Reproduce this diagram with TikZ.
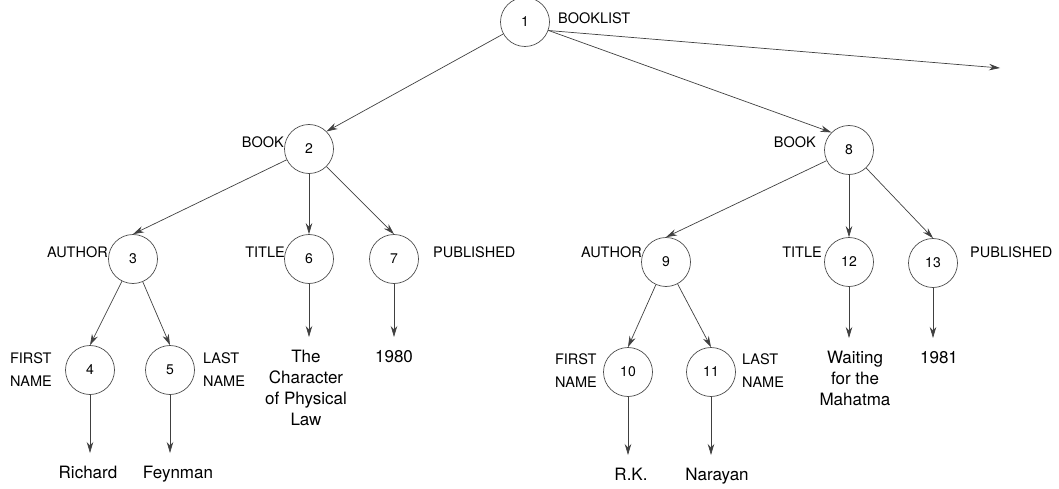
\documentclass[tikz,border=0pt]{standalone}
\usepackage{fontspec}
\setmainfont{TeX Gyre Heros}
\usetikzlibrary{arrows.meta}
\begin{document}
\begin{tikzpicture}[x=1pt,y=-1pt,
  every node/.style={inner sep=0pt},
  circ/.style={circle,draw=black!70,line width=0.7pt,minimum size=49pt,font=\fontsize{14}{16}\selectfont},
  lab/.style={font=\fontsize{14.5}{23}\selectfont,align=left},
  leaf/.style={font=\fontsize{17}{21}\selectfont,align=center,anchor=north},
  arr/.style={draw=black!75,line width=0.7pt,-{Stealth[length=11pt,width=6.5pt]}},
  larr/.style={arr,shorten >=13pt}]
\useasboundingbox (0,0) rectangle (1059,489);
% circles
\node[circ] (n1) at (525,22) {1};
\node[circ] (n2) at (309,149) {2};
\node[circ] (n8) at (849,150) {8};
\node[circ] (n3) at (133,259) {3};
\node[circ] (n6) at (309,259) {6};
\node[circ] (n7) at (394,259) {7};
\node[circ] (n9) at (666,262) {9};
\node[circ] (n12) at (849,262) {12};
\node[circ] (n13) at (933,263) {13};
\node[circ] (n4) at (90,370) {4};
\node[circ] (n5) at (170,370) {5};
\node[circ] (n10) at (628,372) {10};
\node[circ] (n11) at (711,372) {11};
% labels
\node[lab,anchor=west] (l1) at (558,18) {BOOKLIST};
\node[lab,anchor=east] (l2) at (284,142) {BOOK};
\node[lab,anchor=east] (l8) at (816,142) {BOOK};
\node[lab,anchor=east] (l3) at (108,252) {AUTHOR};
\node[lab,anchor=east] (l6) at (285,252) {TITLE};
\node[lab,anchor=west] (l7) at (433,252) {PUBLISHED};
\node[lab,anchor=east] (l9) at (642,252) {AUTHOR};
\node[lab,anchor=east] (l12) at (822,252) {TITLE};
\node[lab,anchor=west] (l13) at (970,252) {PUBLISHED};
\node[lab,anchor=east] (l4) at (52,370) {FIRST\\NAME};
\node[lab,anchor=west] (l5) at (203,370) {LAST\\NAME};
\node[lab,anchor=east] (l10) at (597,371) {FIRST\\NAME};
\node[lab,anchor=west] (l11) at (742,371) {LAST\\NAME};
% leaves
\node[leaf] (t4) at (88,466) {Richard};
\node[leaf] (t5) at (178,466) {Feynman};
\node[leaf] (t6) at (306,350) {The\\Character\\of Physical\\Law};
\node[leaf] (t7) at (394,350) {1980};
\node[leaf] (t10) at (631,468) {R.K.};
\node[leaf] (t11) at (717,468) {Narayan};
\node[leaf] (t12) at (855,351) {Waiting\\for the\\Mahatma};
\node[leaf] (t13) at (939,351) {1981};
\coordinate (rt) at (1000,68);
% connectors
\draw[arr] (n1) -- (n2.north east);
\draw[arr] (n1) -- (n8.north west);
\draw[arr] (n1.-20) -- (rt);
\draw[arr] (n2) -- (n3.north);
\draw[arr] (n2) -- (n6);
\draw[arr] (n2) -- (n7.north);
\draw[arr] (n8) -- (n9.north);
\draw[arr] (n8) -- (n12);
\draw[arr] (n8) -- (n13.north);
\draw[arr] (n3) -- (n4.north);
\draw[arr] (n3) -- (n5.north);
\draw[arr] (n9) -- (n10.north);
\draw[arr] (n9) -- (n11.north);
\draw[larr] (n4) -- (n4 |- t4.north);
\draw[larr] (n5) -- (n5 |- t5.north);
\draw[larr] (n6) -- (n6 |- t6.north);
\draw[larr] (n7) -- (n7 |- t7.north);
\draw[larr] (n10) -- (n10 |- t10.north);
\draw[larr] (n11) -- (n11 |- t11.north);
\draw[larr] (n12) -- (n12 |- t12.north);
\draw[larr] (n13) -- (n13 |- t13.north);
\end{tikzpicture}
\end{document}
